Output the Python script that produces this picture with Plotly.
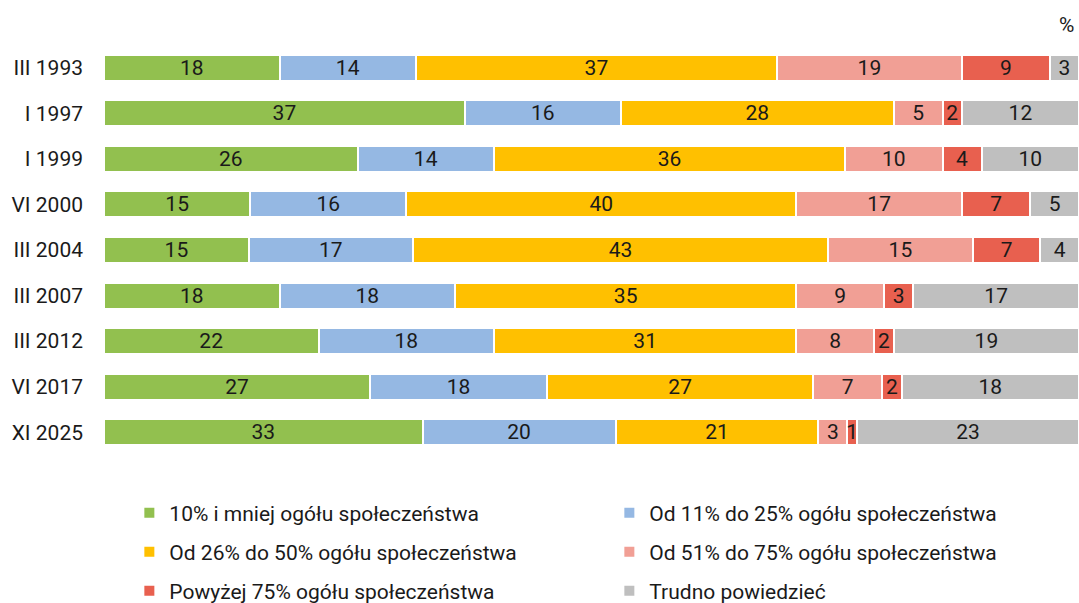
import plotly.graph_objects as go

categories = ["III 1993", "I 1997", "I 1999", "VI 2000", "III 2004",
              "III 2007", "III 2012", "VI 2017", "XI 2025"]

series_names = [
    "10% i mniej ogółu społeczeństwa",
    "Od 11% do 25% ogółu społeczeństwa",
    "Od 26% do 50% ogółu społeczeństwa",
    "Od 51% do 75% ogółu społeczeństwa",
    "Powyżej 75% ogółu społeczeństwa",
    "Trudno powiedzieć",
]

v_10_less = [18, 37, 26, 15, 15, 18, 22, 27, 33]
v_11_25 = [14, 16, 14, 16, 17, 18, 18, 18, 20]
v_26_50 = [37, 28, 36, 40, 43, 35, 31, 27, 21]
v_51_75 = [19, 5, 10, 17, 15, 9, 8, 7, 3]
v_over_75 = [9, 2, 4, 7, 7, 3, 2, 2, 1]
v_hard = [3, 12, 10, 5, 4, 17, 19, 18, 23]

series_values = [v_10_less, v_11_25, v_26_50, v_51_75, v_over_75, v_hard]
colors = ["#92C04F", "#95B8E3", "#FFC000", "#F19F95", "#E8604F", "#BFBFBF"]
legend_ids = ["legend", "legend", "legend2", "legend2", "legend3", "legend3"]

FONT = "Roboto"
FS = 21

fig = go.Figure()
for name, vals, col, lg in zip(series_names, series_values, colors, legend_ids):
    fig.add_trace(go.Bar(
        y=categories, x=vals, name=name, orientation="h",
        marker=dict(color=col, line=dict(color="white", width=2)),
        text=[str(v) for v in vals], textposition="inside", textangle=0,
        insidetextanchor="middle", constraintext="none",
        textfont=dict(family=FONT, size=FS, color="#1a1a1a"),
        legend=lg, hoverinfo="name+x",
    ))

legend_common = dict(orientation="h", xanchor="left", yanchor="middle",
                     x=0.026, entrywidth=435, entrywidthmode="pixels",
                     font=dict(family=FONT, size=FS, color="#1a1a1a"),
                     bgcolor="rgba(0,0,0,0)", traceorder="normal")

fig.update_layout(
    width=1079, height=603,
    barmode="stack", barnorm="percent", bargap=0.43,
    plot_bgcolor="white", paper_bgcolor="white",
    margin=dict(l=104, r=0, t=45, b=148, autoexpand=False),
    font=dict(family=FONT, size=FS, color="#1a1a1a"),
    uniformtext=dict(minsize=FS, mode="show"),
    xaxis=dict(visible=False, range=[0, 100], fixedrange=True),
    yaxis=dict(autorange="reversed", showgrid=False, showline=False,
               ticks="", ticklabelstandoff=20, automargin=False,
               tickfont=dict(family=FONT, size=FS, color="#1a1a1a")),
    legend=dict(**legend_common, y=-0.142),
    legend2=dict(**legend_common, y=-0.237),
    legend3=dict(**legend_common, y=-0.332),
    annotations=[dict(text="%", xref="paper", yref="paper", x=1.0, y=1.0,
                      xanchor="right", yanchor="bottom", yshift=6, xshift=-3,
                      showarrow=False,
                      font=dict(family=FONT, size=FS, color="#1a1a1a"))],
)

fig.write_html(
    "out.html",
    config={"displayModeBar": False},
    post_script="document.body.style.margin='0';document.body.style.overflow='hidden';",
)
